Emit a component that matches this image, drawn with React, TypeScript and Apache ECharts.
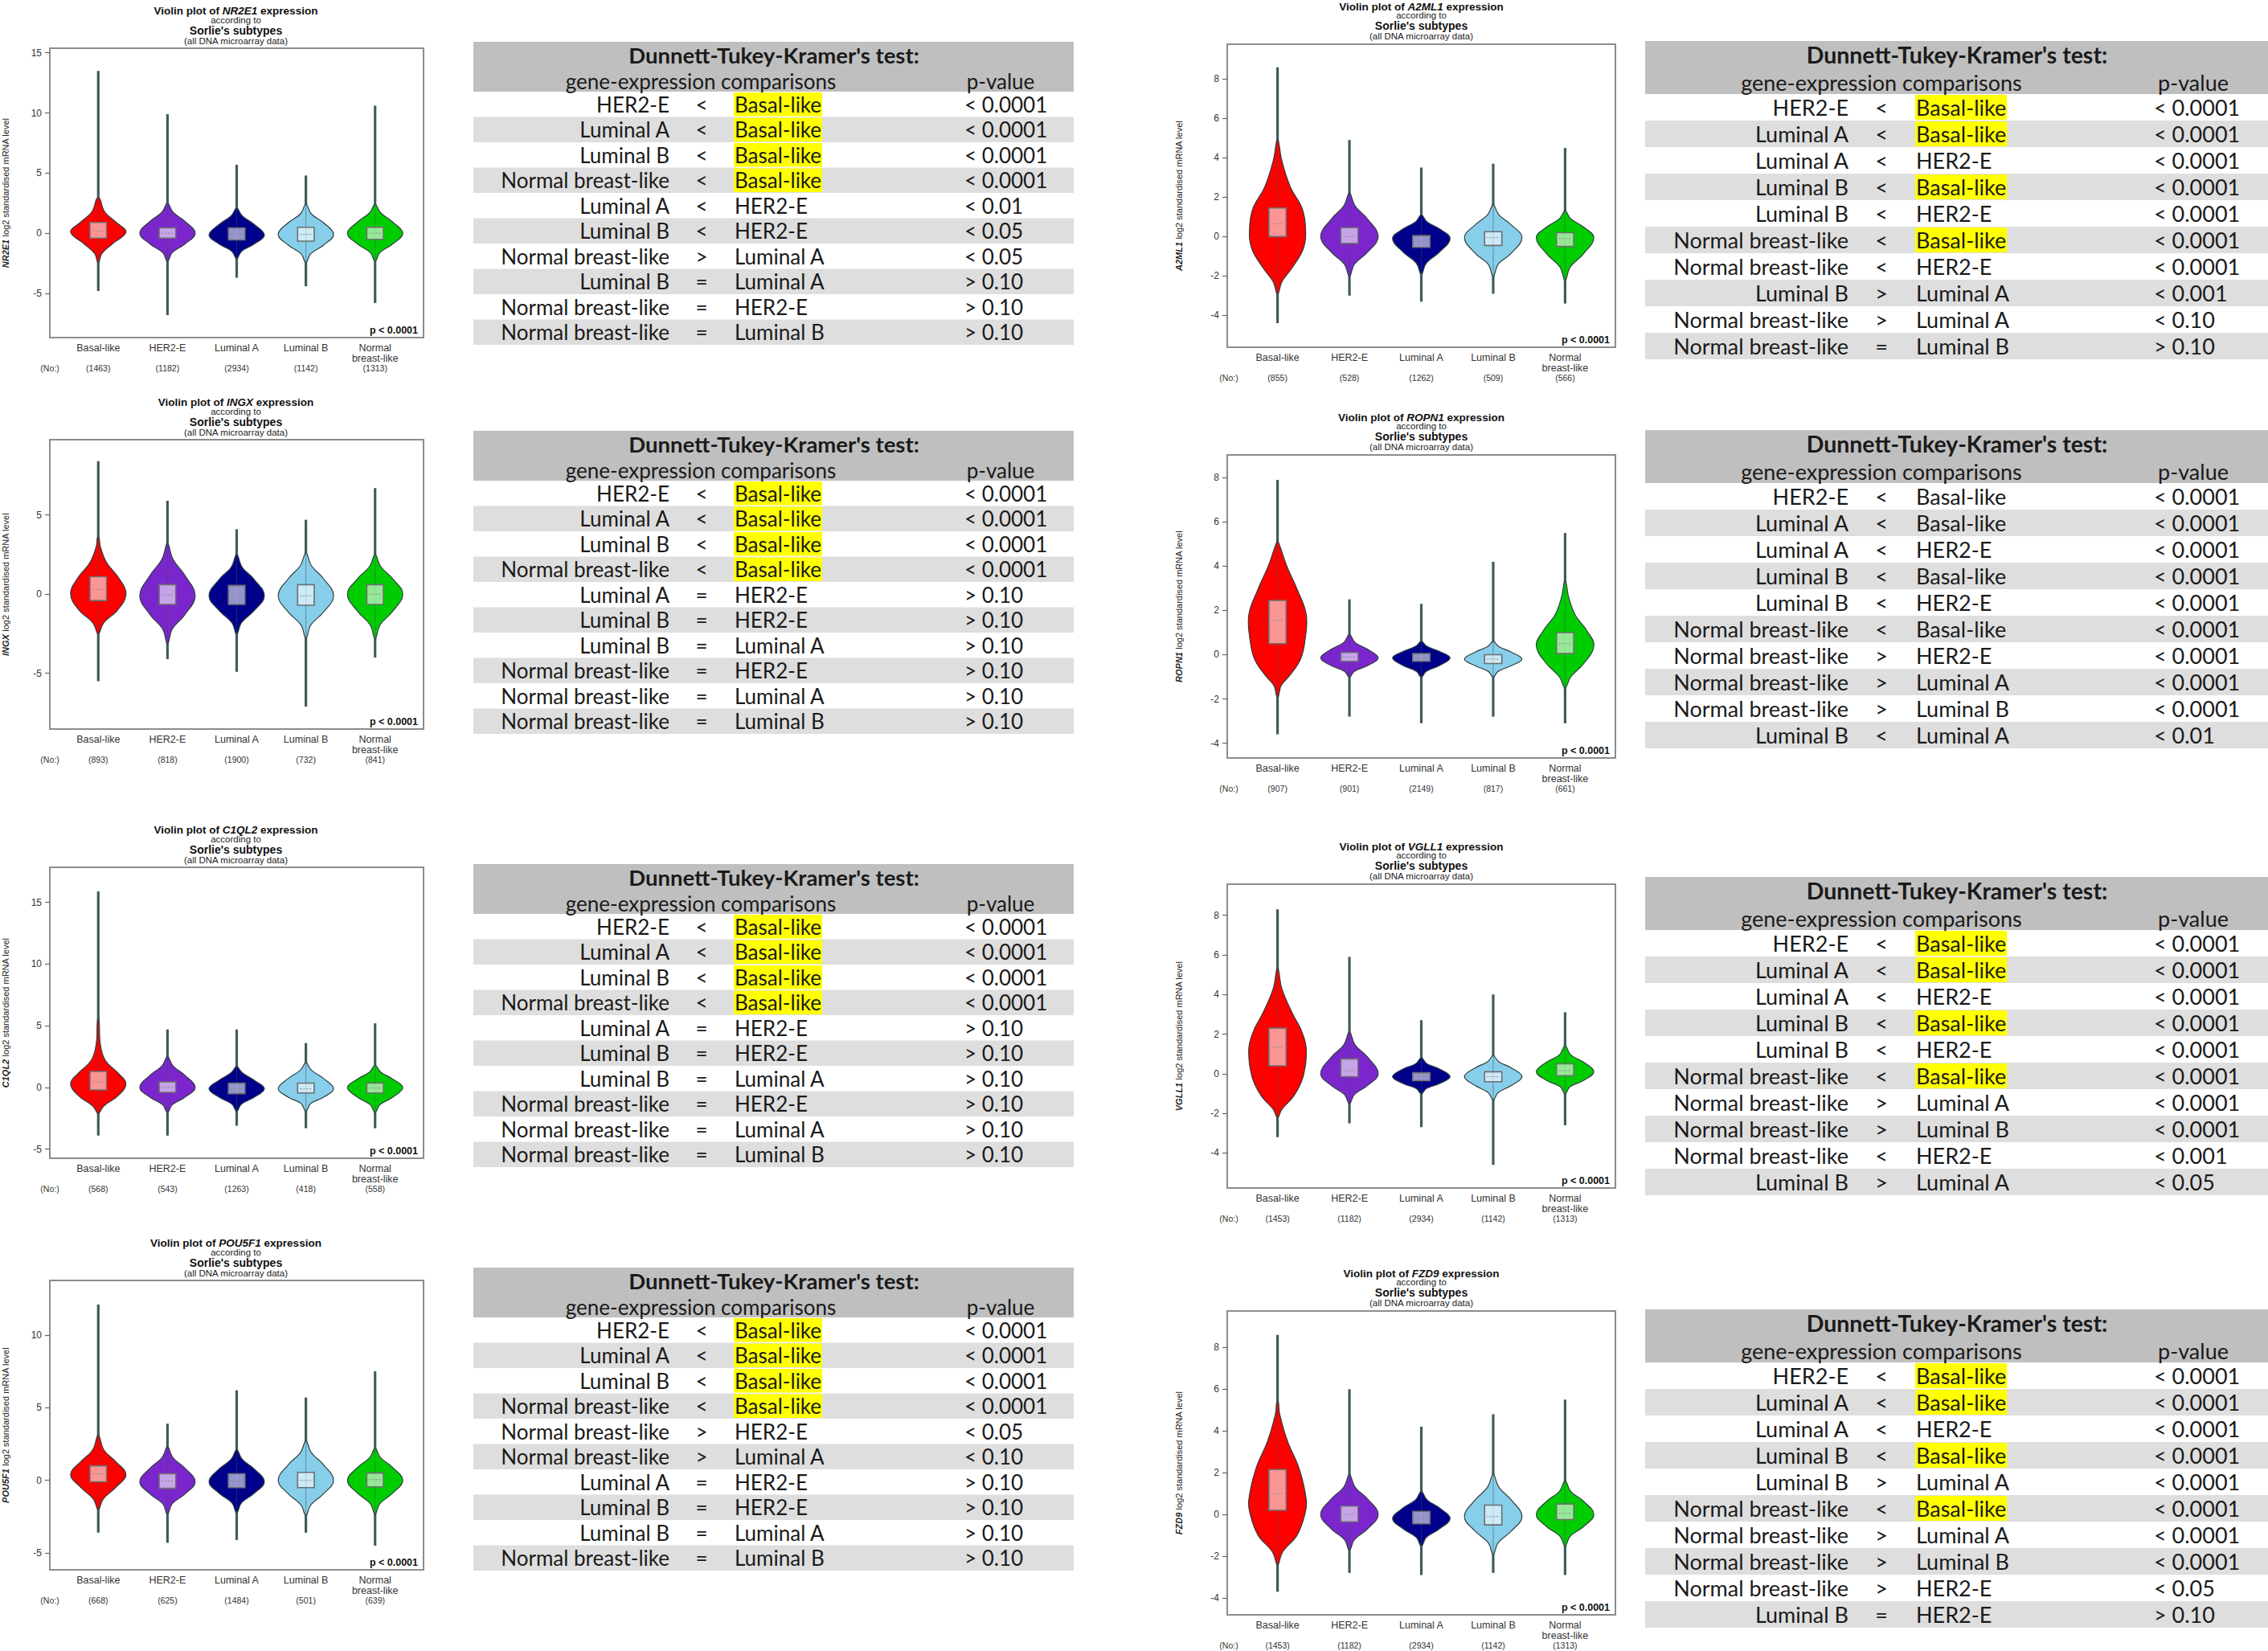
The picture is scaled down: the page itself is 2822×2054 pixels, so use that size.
import React, { useEffect, useRef } from "react";
import * as echarts from "echarts";

const SUBTYPE_LABELS = ["Basal-like", "HER2-E", "Luminal A", "Luminal B", "Normal\nbreast-like"];
const COLORS = ["#FF0000", "#7B26CC", "#00008B", "#87CEEB", "#00CD00"];
const COUNTS_A = [1463, 1182, 2934, 1142, 1313];
const COUNTS_B = [1453, 1182, 2934, 1142, 1313];

// ---------- NR2E1 ----------
const NR2E1_COUNTS = COUNTS_A;
const NR2E1_TICKS = [-5, 0, 5, 10, 15];
const NR2E1_RANGE = [-8.67, 15.38];
const NR2E1_MIN = [-4.8, -6.8, -3.7, -4.4, -5.8];
const NR2E1_MAX = [13.5, 9.9, 5.7, 4.8, 10.6];
const NR2E1_Q1 = [-0.4, -0.4, -0.55, -0.65, -0.5];
const NR2E1_MED = [0.2, 0.0, -0.05, -0.1, 0.0];
const NR2E1_Q3 = [0.9, 0.45, 0.45, 0.5, 0.5];
const NR2E1_SHAPES = [
  [[-2.4, 0.01], [-1.7, 0.05], [-0.9, 0.2], [0.1, 0.4], [0.9, 0.26], [1.8, 0.09], [2.9, 0.02]],
  [[-2.3, 0.01], [-1.6, 0.07], [-0.9, 0.25], [0, 0.4], [1.0, 0.25], [1.75, 0.08], [2.5, 0.01]],
  [[-2.1, 0.01], [-1.5, 0.07], [-0.9, 0.25], [-0.15, 0.4], [0.75, 0.25], [1.45, 0.08], [2.1, 0.01]],
  [[-2.4, 0.01], [-1.7, 0.07], [-1.0, 0.25], [-0.1, 0.4], [0.9, 0.25], [1.6, 0.08], [2.4, 0.01]],
  [[-2.3, 0.01], [-1.6, 0.07], [-0.9, 0.25], [0, 0.4], [0.95, 0.25], [1.7, 0.08], [2.4, 0.01]],
];
const NR2E1_TESTS = [
  ["HER2-E", "<", "Basal-like", "< 0.0001", 1],
  ["Luminal A", "<", "Basal-like", "< 0.0001", 1],
  ["Luminal B", "<", "Basal-like", "< 0.0001", 1],
  ["Normal breast-like", "<", "Basal-like", "< 0.0001", 1],
  ["Luminal A", "<", "HER2-E", "< 0.01", 0],
  ["Luminal B", "<", "HER2-E", "< 0.05", 0],
  ["Normal breast-like", ">", "Luminal A", "< 0.05", 0],
  ["Luminal B", "=", "Luminal A", "> 0.10", 0],
  ["Normal breast-like", "=", "HER2-E", "> 0.10", 0],
  ["Normal breast-like", "=", "Luminal B", "> 0.10", 0],
];

// ---------- INGX ----------
const INGX_COUNTS = [893, 818, 1900, 732, 841];
const INGX_TICKS = [-5, 0, 5];
const INGX_RANGE = [-8.52, 9.76];
const INGX_MIN = [-5.5, -4.1, -4.9, -7.1, -4.0];
const INGX_MAX = [8.4, 5.9, 4.1, 4.7, 6.7];
const INGX_Q1 = [-0.4, -0.65, -0.65, -0.7, -0.65];
const INGX_MED = [0.3, -0.05, -0.05, -0.1, 0.0];
const INGX_Q3 = [1.1, 0.6, 0.55, 0.6, 0.6];
const INGX_SHAPES = [
  [[-2.5, 0.01], [-1.8, 0.08], [-1.0, 0.28], [0.0, 0.4], [1.0, 0.3], [2.0, 0.12], [3.0, 0.03], [3.6, 0.01]],
  [[-3.1, 0.01], [-2.2, 0.07], [-1.3, 0.25], [-0.1, 0.4], [1.2, 0.25], [2.2, 0.08], [3.2, 0.01]],
  [[-2.5, 0.01], [-1.8, 0.07], [-1.05, 0.25], [-0.1, 0.4], [0.95, 0.25], [1.7, 0.08], [2.5, 0.01]],
  [[-2.75, 0.01], [-1.95, 0.07], [-1.15, 0.25], [-0.1, 0.4], [1.0, 0.25], [1.8, 0.08], [2.6, 0.01]],
  [[-2.8, 0.01], [-1.95, 0.07], [-1.1, 0.25], [0, 0.4], [1.0, 0.25], [1.75, 0.08], [2.5, 0.01]],
];
const INGX_TESTS = [
  ["HER2-E", "<", "Basal-like", "< 0.0001", 1],
  ["Luminal A", "<", "Basal-like", "< 0.0001", 1],
  ["Luminal B", "<", "Basal-like", "< 0.0001", 1],
  ["Normal breast-like", "<", "Basal-like", "< 0.0001", 1],
  ["Luminal A", "=", "HER2-E", "> 0.10", 0],
  ["Luminal B", "=", "HER2-E", "> 0.10", 0],
  ["Luminal B", "=", "Luminal A", "> 0.10", 0],
  ["Normal breast-like", "=", "HER2-E", "> 0.10", 0],
  ["Normal breast-like", "=", "Luminal A", "> 0.10", 0],
  ["Normal breast-like", "=", "Luminal B", "> 0.10", 0],
];

// ---------- C1QL2 ----------
const C1QL2_COUNTS = [568, 543, 1263, 418, 558];
const C1QL2_TICKS = [-5, 0, 5, 10, 15];
const C1QL2_RANGE = [-5.74, 17.85];
const C1QL2_MIN = [-3.9, -3.9, -3.1, -3.3, -3.3];
const C1QL2_MAX = [15.9, 4.7, 4.7, 3.6, 5.2];
const C1QL2_Q1 = [-0.2, -0.4, -0.5, -0.45, -0.45];
const C1QL2_MED = [0.45, 0.0, -0.1, -0.1, -0.05];
const C1QL2_Q3 = [1.3, 0.45, 0.35, 0.35, 0.35];
const C1QL2_SHAPES = [
  [[-2.1, 0.01], [-1.5, 0.08], [-0.7, 0.28], [0.3, 0.4], [1.2, 0.28], [2.2, 0.1], [3.5, 0.03], [5.5, 0.01]],
  [[-2.0, 0.01], [-1.4, 0.07], [-0.8, 0.25], [0, 0.4], [1.0, 0.25], [1.75, 0.08], [2.5, 0.01]],
  [[-1.9, 0.01], [-1.35, 0.07], [-0.8, 0.25], [-0.1, 0.4], [0.6, 0.25], [1.2, 0.08], [1.7, 0.01]],
  [[-1.9, 0.01], [-1.3, 0.07], [-0.8, 0.25], [-0.1, 0.4], [0.75, 0.25], [1.4, 0.08], [2.0, 0.01]],
  [[-2.0, 0.01], [-1.4, 0.07], [-0.8, 0.25], [0, 0.4], [0.7, 0.25], [1.25, 0.08], [1.8, 0.01]],
];
const C1QL2_TESTS = [
  ["HER2-E", "<", "Basal-like", "< 0.0001", 1],
  ["Luminal A", "<", "Basal-like", "< 0.0001", 1],
  ["Luminal B", "<", "Basal-like", "< 0.0001", 1],
  ["Normal breast-like", "<", "Basal-like", "< 0.0001", 1],
  ["Luminal A", "=", "HER2-E", "> 0.10", 0],
  ["Luminal B", "=", "HER2-E", "> 0.10", 0],
  ["Luminal B", "=", "Luminal A", "> 0.10", 0],
  ["Normal breast-like", "=", "HER2-E", "> 0.10", 0],
  ["Normal breast-like", "=", "Luminal A", "> 0.10", 0],
  ["Normal breast-like", "=", "Luminal B", "> 0.10", 0],
];

// ---------- POU5F1 ----------
const POU5F1_COUNTS = [668, 625, 1484, 501, 639];
const POU5F1_TICKS = [-5, 0, 5, 10];
const POU5F1_RANGE = [-6.16, 13.76];
const POU5F1_MIN = [-3.6, -4.3, -4.1, -3.6, -4.5];
const POU5F1_MAX = [12.1, 3.9, 6.2, 5.7, 7.5];
const POU5F1_Q1 = [-0.1, -0.55, -0.5, -0.5, -0.45];
const POU5F1_MED = [0.45, -0.05, -0.05, 0.0, 0.05];
const POU5F1_Q3 = [1.0, 0.45, 0.45, 0.55, 0.5];
const POU5F1_SHAPES = [
  [[-2.0, 0.01], [-1.3, 0.07], [-0.5, 0.25], [0.4, 0.4], [1.3, 0.25], [2.1, 0.08], [3.1, 0.01]],
  [[-2.3, 0.01], [-1.6, 0.07], [-0.95, 0.25], [-0.1, 0.4], [0.85, 0.25], [1.55, 0.08], [2.3, 0.01]],
  [[-2.2, 0.01], [-1.55, 0.07], [-0.9, 0.25], [-0.1, 0.4], [0.8, 0.25], [1.45, 0.08], [2.1, 0.01]],
  [[-2.4, 0.01], [-1.7, 0.07], [-0.95, 0.25], [0, 0.4], [1.1, 0.25], [1.9, 0.08], [2.7, 0.01]],
  [[-2.3, 0.01], [-1.6, 0.07], [-0.9, 0.25], [0, 0.4], [0.9, 0.25], [1.55, 0.08], [2.2, 0.01]],
];
const POU5F1_TESTS = [
  ["HER2-E", "<", "Basal-like", "< 0.0001", 1],
  ["Luminal A", "<", "Basal-like", "< 0.0001", 1],
  ["Luminal B", "<", "Basal-like", "< 0.0001", 1],
  ["Normal breast-like", "<", "Basal-like", "< 0.0001", 1],
  ["Normal breast-like", ">", "HER2-E", "< 0.05", 0],
  ["Normal breast-like", ">", "Luminal A", "< 0.10", 0],
  ["Luminal A", "=", "HER2-E", "> 0.10", 0],
  ["Luminal B", "=", "HER2-E", "> 0.10", 0],
  ["Luminal B", "=", "Luminal A", "> 0.10", 0],
  ["Normal breast-like", "=", "Luminal B", "> 0.10", 0],
];

// ---------- A2ML1 ----------
const A2ML1_COUNTS = [855, 528, 1262, 509, 566];
const A2ML1_TICKS = [-4, -2, 0, 2, 4, 6, 8];
const A2ML1_RANGE = [-5.62, 9.77];
const A2ML1_MIN = [-4.4, -3.0, -3.3, -2.9, -3.4];
const A2ML1_MAX = [8.6, 4.9, 3.5, 3.7, 4.5];
const A2ML1_Q1 = [0.0, -0.35, -0.55, -0.45, -0.5];
const A2ML1_MED = [0.65, 0.0, -0.25, -0.05, -0.1];
const A2ML1_Q3 = [1.45, 0.45, 0.05, 0.25, 0.2];
const A2ML1_SHAPES = [
  [[-2.9, 0.01], [-2.3, 0.06], [-1.6, 0.2], [-0.6, 0.36], [0.4, 0.39], [1.45, 0.34], [2.5, 0.18], [3.85, 0.06], [4.9, 0.01]],
  [[-2.0, 0.01], [-1.4, 0.07], [-0.8, 0.25], [0, 0.4], [0.9, 0.25], [1.55, 0.08], [2.2, 0.01]],
  [[-1.9, 0.01], [-1.35, 0.07], [-0.8, 0.25], [-0.1, 0.4], [0.4, 0.25], [0.75, 0.08], [1.1, 0.01]],
  [[-2.0, 0.01], [-1.4, 0.07], [-0.85, 0.25], [-0.05, 0.4], [0.6, 0.25], [1.1, 0.08], [1.6, 0.01]],
  [[-2.2, 0.01], [-1.55, 0.07], [-0.9, 0.25], [-0.05, 0.4], [0.5, 0.25], [0.9, 0.08], [1.3, 0.01]],
];
const A2ML1_TESTS = [
  ["HER2-E", "<", "Basal-like", "< 0.0001", 1],
  ["Luminal A", "<", "Basal-like", "< 0.0001", 1],
  ["Luminal A", "<", "HER2-E", "< 0.0001", 0],
  ["Luminal B", "<", "Basal-like", "< 0.0001", 1],
  ["Luminal B", "<", "HER2-E", "< 0.0001", 0],
  ["Normal breast-like", "<", "Basal-like", "< 0.0001", 1],
  ["Normal breast-like", "<", "HER2-E", "< 0.0001", 0],
  ["Luminal B", ">", "Luminal A", "< 0.001", 0],
  ["Normal breast-like", ">", "Luminal A", "< 0.10", 0],
  ["Normal breast-like", "=", "Luminal B", "> 0.10", 0],
];

// ---------- ROPN1 ----------
const ROPN1_COUNTS = [907, 901, 2149, 817, 661];
const ROPN1_TICKS = [-4, -2, 0, 2, 4, 6, 8];
const ROPN1_RANGE = [-4.67, 9.03];
const ROPN1_MIN = [-3.6, -2.8, -3.1, -2.8, -3.1];
const ROPN1_MAX = [7.9, 2.5, 2.3, 4.2, 5.5];
const ROPN1_Q1 = [0.5, -0.3, -0.3, -0.4, 0.05];
const ROPN1_MED = [1.55, -0.1, -0.15, -0.2, 0.5];
const ROPN1_Q3 = [2.45, 0.1, 0.05, 0.0, 1.0];
const ROPN1_SHAPES = [
  [[-1.9, 0.01], [-1.4, 0.05], [-0.9, 0.18], [-0.2, 0.32], [0.6, 0.38], [1.8, 0.4], [2.9, 0.28], [4.0, 0.13], [5.1, 0.01]],
  [[-1.0, 0.01], [-0.75, 0.07], [-0.5, 0.25], [-0.15, 0.4], [0.25, 0.25], [0.55, 0.08], [0.9, 0.01]],
  [[-1.0, 0.01], [-0.75, 0.07], [-0.5, 0.25], [-0.15, 0.4], [0.15, 0.25], [0.38, 0.08], [0.6, 0.01]],
  [[-1.0, 0.01], [-0.75, 0.07], [-0.5, 0.25], [-0.2, 0.4], [0.12, 0.25], [0.36, 0.08], [0.6, 0.01]],
  [[-1.5, 0.01], [-1.0, 0.08], [-0.4, 0.26], [0.4, 0.4], [1.1, 0.3], [1.8, 0.14], [2.6, 0.05], [3.3, 0.01]],
];
const ROPN1_TESTS = [
  ["HER2-E", "<", "Basal-like", "< 0.0001", 0],
  ["Luminal A", "<", "Basal-like", "< 0.0001", 0],
  ["Luminal A", "<", "HER2-E", "< 0.0001", 0],
  ["Luminal B", "<", "Basal-like", "< 0.0001", 0],
  ["Luminal B", "<", "HER2-E", "< 0.0001", 0],
  ["Normal breast-like", "<", "Basal-like", "< 0.0001", 0],
  ["Normal breast-like", ">", "HER2-E", "< 0.0001", 0],
  ["Normal breast-like", ">", "Luminal A", "< 0.0001", 0],
  ["Normal breast-like", ">", "Luminal B", "< 0.0001", 0],
  ["Luminal B", "<", "Luminal A", "< 0.01", 0],
];

// ---------- VGLL1 ----------
const VGLL1_COUNTS = COUNTS_B;
const VGLL1_TICKS = [-4, -2, 0, 2, 4, 6, 8];
const VGLL1_RANGE = [-5.77, 9.57];
const VGLL1_MIN = [-3.2, -2.5, -2.7, -4.6, -2.6];
const VGLL1_MAX = [8.3, 5.9, 2.7, 4.0, 3.1];
const VGLL1_Q1 = [0.4, -0.15, -0.35, -0.4, -0.1];
const VGLL1_MED = [1.35, 0.15, -0.15, -0.15, 0.15];
const VGLL1_Q3 = [2.3, 0.75, 0.05, 0.1, 0.5];
const VGLL1_SHAPES = [
  [[-2.2, 0.01], [-1.8, 0.06], [-1.1, 0.23], [-0.1, 0.36], [1.25, 0.4], [2.2, 0.33], [2.95, 0.22], [4.3, 0.06], [5.3, 0.01]],
  [[-1.5, 0.01], [-1.05, 0.07], [-0.6, 0.25], [0, 0.4], [0.85, 0.25], [1.45, 0.08], [2.1, 0.01]],
  [[-1.0, 0.01], [-0.75, 0.07], [-0.5, 0.25], [-0.15, 0.4], [0.25, 0.25], [0.5, 0.08], [0.8, 0.01]],
  [[-1.3, 0.01], [-0.95, 0.07], [-0.6, 0.25], [-0.15, 0.4], [0.3, 0.25], [0.6, 0.08], [0.9, 0.01]],
  [[-1.0, 0.01], [-0.65, 0.07], [-0.35, 0.25], [0.1, 0.4], [0.6, 0.25], [0.95, 0.08], [1.4, 0.01]],
];
const VGLL1_TESTS = [
  ["HER2-E", "<", "Basal-like", "< 0.0001", 1],
  ["Luminal A", "<", "Basal-like", "< 0.0001", 1],
  ["Luminal A", "<", "HER2-E", "< 0.0001", 0],
  ["Luminal B", "<", "Basal-like", "< 0.0001", 1],
  ["Luminal B", "<", "HER2-E", "< 0.0001", 0],
  ["Normal breast-like", "<", "Basal-like", "< 0.0001", 1],
  ["Normal breast-like", ">", "Luminal A", "< 0.0001", 0],
  ["Normal breast-like", ">", "Luminal B", "< 0.0001", 0],
  ["Normal breast-like", "<", "HER2-E", "< 0.001", 0],
  ["Luminal B", ">", "Luminal A", "< 0.05", 0],
];

// ---------- FZD9 ----------
const FZD9_COUNTS = COUNTS_B;
const FZD9_TICKS = [-4, -2, 0, 2, 4, 6, 8];
const FZD9_RANGE = [-4.81, 9.75];
const FZD9_MIN = [-3.7, -2.8, -2.9, -2.8, -2.9];
const FZD9_MAX = [8.6, 6.0, 4.2, 4.8, 5.5];
const FZD9_Q1 = [0.2, -0.35, -0.45, -0.5, -0.25];
const FZD9_MED = [1.0, 0.0, -0.2, -0.1, 0.05];
const FZD9_Q3 = [2.15, 0.4, 0.15, 0.45, 0.5];
const FZD9_SHAPES = [
  [[-2.4, 0.01], [-1.8, 0.07], [-1.0, 0.27], [0.0, 0.38], [0.7, 0.4], [2.2, 0.3], [3.5, 0.14], [4.8, 0.03], [5.4, 0.01]],
  [[-1.7, 0.01], [-1.2, 0.07], [-0.7, 0.25], [0, 0.4], [0.75, 0.25], [1.3, 0.08], [1.9, 0.01]],
  [[-1.5, 0.01], [-1.1, 0.07], [-0.7, 0.25], [-0.2, 0.4], [0.32, 0.25], [0.7, 0.08], [1.1, 0.01]],
  [[-1.9, 0.01], [-1.35, 0.07], [-0.8, 0.25], [-0.1, 0.4], [0.7, 0.25], [1.3, 0.08], [1.9, 0.01]],
  [[-1.5, 0.01], [-1.05, 0.07], [-0.6, 0.25], [0, 0.4], [0.65, 0.25], [1.1, 0.08], [1.6, 0.01]],
];
const FZD9_TESTS = [
  ["HER2-E", "<", "Basal-like", "< 0.0001", 1],
  ["Luminal A", "<", "Basal-like", "< 0.0001", 1],
  ["Luminal A", "<", "HER2-E", "< 0.0001", 0],
  ["Luminal B", "<", "Basal-like", "< 0.0001", 1],
  ["Luminal B", ">", "Luminal A", "< 0.0001", 0],
  ["Normal breast-like", "<", "Basal-like", "< 0.0001", 1],
  ["Normal breast-like", ">", "Luminal A", "< 0.0001", 0],
  ["Normal breast-like", ">", "Luminal B", "< 0.0001", 0],
  ["Normal breast-like", ">", "HER2-E", "< 0.05", 0],
  ["Luminal B", "=", "HER2-E", "> 0.10", 0],
];

const PLOTS: any[] = [
  { gene: "NR2E1", counts: NR2E1_COUNTS, ticks: NR2E1_TICKS, range: NR2E1_RANGE, min: NR2E1_MIN, max: NR2E1_MAX, q1: NR2E1_Q1, med: NR2E1_MED, q3: NR2E1_Q3, shapes: NR2E1_SHAPES, tests: NR2E1_TESTS },
  { gene: "INGX", counts: INGX_COUNTS, ticks: INGX_TICKS, range: INGX_RANGE, min: INGX_MIN, max: INGX_MAX, q1: INGX_Q1, med: INGX_MED, q3: INGX_Q3, shapes: INGX_SHAPES, tests: INGX_TESTS },
  { gene: "C1QL2", counts: C1QL2_COUNTS, ticks: C1QL2_TICKS, range: C1QL2_RANGE, min: C1QL2_MIN, max: C1QL2_MAX, q1: C1QL2_Q1, med: C1QL2_MED, q3: C1QL2_Q3, shapes: C1QL2_SHAPES, tests: C1QL2_TESTS },
  { gene: "POU5F1", counts: POU5F1_COUNTS, ticks: POU5F1_TICKS, range: POU5F1_RANGE, min: POU5F1_MIN, max: POU5F1_MAX, q1: POU5F1_Q1, med: POU5F1_MED, q3: POU5F1_Q3, shapes: POU5F1_SHAPES, tests: POU5F1_TESTS },
  { gene: "A2ML1", counts: A2ML1_COUNTS, ticks: A2ML1_TICKS, range: A2ML1_RANGE, min: A2ML1_MIN, max: A2ML1_MAX, q1: A2ML1_Q1, med: A2ML1_MED, q3: A2ML1_Q3, shapes: A2ML1_SHAPES, tests: A2ML1_TESTS },
  { gene: "ROPN1", counts: ROPN1_COUNTS, ticks: ROPN1_TICKS, range: ROPN1_RANGE, min: ROPN1_MIN, max: ROPN1_MAX, q1: ROPN1_Q1, med: ROPN1_MED, q3: ROPN1_Q3, shapes: ROPN1_SHAPES, tests: ROPN1_TESTS },
  { gene: "VGLL1", counts: VGLL1_COUNTS, ticks: VGLL1_TICKS, range: VGLL1_RANGE, min: VGLL1_MIN, max: VGLL1_MAX, q1: VGLL1_Q1, med: VGLL1_MED, q3: VGLL1_Q3, shapes: VGLL1_SHAPES, tests: VGLL1_TESTS },
  { gene: "FZD9", counts: FZD9_COUNTS, ticks: FZD9_TICKS, range: FZD9_RANGE, min: FZD9_MIN, max: FZD9_MAX, q1: FZD9_Q1, med: FZD9_MED, q3: FZD9_Q3, shapes: FZD9_SHAPES, tests: FZD9_TESTS },
];

// ---------- layout (pixels) ----------
const PLOT_BOX = [
  { left: 60, top: 60, width: 467, height: 360 },
  { left: 60, top: 547, width: 467, height: 360 },
  { left: 60, top: 1079, width: 467, height: 362 },
  { left: 60, top: 1593, width: 467, height: 360 },
  { left: 1527, top: 55, width: 483, height: 377 },
  { left: 1527, top: 566, width: 483, height: 377 },
  { left: 1527, top: 1100, width: 483, height: 378 },
  { left: 1527, top: 1631, width: 483, height: 378 },
];
const TABLE_L = { x0: 589, w: 747, hh: 62, rh: 31.5, c1: 833, sym: 873, c3: 914, pl: 1200, ph: 1245, gh: 872, th: 963, fs: 26, tfs: 27.5, ty: 16, gy: 49 };
const TABLE_R = { x0: 2047, w: 775, hh: 66, rh: 33, c1: 2300, sym: 2341, c3: 2384, pl: 2680, ph: 2729, gh: 2341, th: 2435, fs: 27, tfs: 28.5, ty: 17, gy: 51 };
const TABLE_TOPS = [52, 536, 1075, 1577, 51, 535, 1091, 1629];

const PF = "Liberation Sans, Arial, sans-serif";
const TF = "Lato, 'Open Sans', sans-serif";

function makeRender(p: any) {
  return (params: any, api: any) => {
    const i = params.dataIndex;
    const cx = i + 1;
    const prof = p.shapes[i];
    const right = prof.map((d: number[]) => api.coord([cx + d[1], d[0]]));
    const left = prof.slice().reverse().map((d: number[]) => api.coord([cx - d[1], d[0]]));
    const pts = right.concat(left);
    const lo = api.coord([cx, p.min[i]]);
    const hi = api.coord([cx, p.max[i]]);
    const b1 = api.coord([cx - 0.12, p.q3[i]]);
    const b2 = api.coord([cx + 0.12, p.q1[i]]);
    const m1 = api.coord([cx - 0.12, p.med[i]]);
    const m2 = api.coord([cx + 0.12, p.med[i]]);
    return {
      type: "group",
      children: [
        { type: "line", shape: { x1: lo[0], y1: lo[1], x2: hi[0], y2: hi[1] }, style: { stroke: "#2F4F4F", lineWidth: 3.2, opacity: 0.9 } },
        { type: "polygon", shape: { points: pts, smooth: 0.4 }, style: { fill: COLORS[i], stroke: "#2F3F3F", lineWidth: 1.2 } },
        { type: "line", shape: { x1: lo[0], y1: lo[1], x2: hi[0], y2: hi[1] }, style: { stroke: "#2F4F4F", lineWidth: 1, opacity: 0.5 } },
        { type: "rect", shape: { x: b1[0], y: b1[1], width: b2[0] - b1[0], height: b2[1] - b1[1] }, style: { fill: "rgba(255,255,255,0.58)", stroke: "#6E6E6E", lineWidth: 1.6 } },
        { type: "line", shape: { x1: m1[0] + 3, y1: m1[1], x2: m2[0] - 3, y2: m2[1] }, style: { stroke: "#8A8A8A", lineWidth: 1, lineDash: [2, 2] } },
      ],
    };
  };
}

function tableElements(tests: any[], L: any, top: number) {
  const els: any[] = [];
  els.push({ type: "rect", shape: { x: L.x0, y: top, width: L.w, height: L.hh }, style: { fill: "#BFBFBF" } });
  tests.forEach((r: any[], i: number) => {
    if (i % 2 === 1) {
      els.push({ type: "rect", shape: { x: L.x0, y: top + L.hh + L.rh * i, width: L.w, height: L.rh }, style: { fill: "#DEDEDE" } });
    }
  });
  const base = { fontFamily: TF, fontSize: L.fs, fill: "#1A1A1A", verticalAlign: "middle" };
  els.push({ type: "text", x: L.th, y: top + L.ty, style: { ...base, text: "Dunnett-Tukey-Kramer's test:", fontSize: L.tfs, fontWeight: "bold", align: "center" } });
  els.push({ type: "text", x: L.gh, y: top + L.gy, style: { ...base, text: "gene-expression comparisons", align: "center" } });
  els.push({ type: "text", x: L.ph, y: top + L.gy, style: { ...base, text: "p-value", align: "center" } });
  tests.forEach((r: any[], i: number) => {
    const y = top + L.hh + L.rh * (i + 0.5);
    els.push({ type: "text", x: L.c1, y, style: { ...base, text: r[0], align: "right" } });
    els.push({ type: "text", x: L.sym, y, style: { ...base, text: r[1], align: "center" } });
    const st: any = { ...base, text: r[2], align: "left" };
    if (r[4]) {
      st.backgroundColor = "#FFFF00";
      st.lineHeight = L.rh - 2;
      st.padding = [0, 1];
    }
    els.push({ type: "text", x: L.c3 - (r[4] ? 1 : 0), y, style: st });
    els.push({ type: "text", x: L.pl, y, style: { ...base, text: r[3], align: "left" } });
  });
  return els;
}

function plotTexts(p: any, box: any, right: boolean) {
  const cx = box.left + box.width / 2;
  const off = right ? [-47, -36, -23, -10] : [-47, -35, -22, -9];
  const t = box.top;
  const els: any[] = [];
  els.push({
    type: "text", x: cx, y: t + off[0],
    style: {
      text: `Violin plot of {g|${p.gene}} expression`, fontFamily: PF, fontSize: 13.5, fontWeight: "bold", fill: "#111",
      align: "center", verticalAlign: "middle",
      rich: { g: { fontFamily: PF, fontSize: 13.5, fontWeight: "bold", fontStyle: "italic", fill: "#111" } },
    },
  });
  els.push({ type: "text", x: cx, y: t + off[1], style: { text: "according to", fontFamily: PF, fontSize: 11.5, fill: "#222", align: "center", verticalAlign: "middle" } });
  els.push({ type: "text", x: cx, y: t + off[2], style: { text: "Sorlie's subtypes", fontFamily: PF, fontSize: 14, fontWeight: "bold", fill: "#111", align: "center", verticalAlign: "middle" } });
  els.push({ type: "text", x: cx, y: t + off[3], style: { text: "(all DNA microarray data)", fontFamily: PF, fontSize: 11.5, fill: "#222", align: "center", verticalAlign: "middle" } });
  els.push({ type: "text", x: box.left + box.width - 7, y: box.top + box.height - 9, style: { text: "p < 0.0001", fontFamily: PF, fontSize: 12.5, fontWeight: "bold", fill: "#111", align: "right", verticalAlign: "middle" } });
  els.push({ type: "text", x: box.left + 2, y: box.top + box.height + 38, style: { text: "(No:)", fontFamily: PF, fontSize: 10.5, fill: "#333", align: "center", verticalAlign: "middle" } });
  return els;
}

export default function App() {
  const ref = useRef<HTMLDivElement>(null);
  useEffect(() => {
    document.body.style.margin = "0";
    const chart = echarts.init(ref.current as HTMLDivElement, null, { renderer: "svg" });
    const grids = PLOT_BOX.map((b) => ({ ...b, show: true, borderColor: "#8C8C8C", borderWidth: 2, backgroundColor: "transparent" }));
    const xAxes = PLOTS.map((p, g) => ({
      gridIndex: g, type: "value", min: 0.3, max: 5.7,
      axisLine: { show: false }, splitLine: { show: false },
      axisTick: { show: true, customValues: [1, 2, 3, 4, 5], length: 6, lineStyle: { color: "#666", width: 1.2 } },
      axisLabel: {
        customValues: [1, 2, 3, 4, 5], margin: 7,
        formatter: (v: number) => {
          const i = Math.round(v) - 1;
          const lines = SUBTYPE_LABELS[i].split("\n");
          const n = `{c|(${p.counts[i]})}`;
          return lines.length === 2 ? `{a|${lines[0]}}\n{a|${lines[1]}}\n${n}` : `{a|${lines[0]}}\n{a| }\n${n}`;
        },
        rich: {
          a: { fontFamily: PF, fontSize: 12.5, lineHeight: 12.5, color: "#333" },
          c: { fontFamily: PF, fontSize: 10.5, lineHeight: 12.5, color: "#333" },
        },
      },
    }));
    const yAxes = PLOTS.map((p, g) => ({
      gridIndex: g, type: "value", min: p.range[0], max: p.range[1],
      axisLine: { show: false }, splitLine: { show: false },
      axisTick: { show: true, customValues: p.ticks, length: 6, lineStyle: { color: "#666", width: 1.2 } },
      axisLabel: { customValues: p.ticks, margin: 10, fontFamily: PF, fontSize: 12, color: "#333" },
      name: `{g|${p.gene}} log2 standardised mRNA level`,
      nameLocation: "middle", nameRotate: 90, nameGap: g < 4 ? 50 : 55,
      nameTextStyle: {
        fontFamily: PF, fontSize: 11, color: "#222",
        rich: { g: { fontFamily: PF, fontSize: 11, fontWeight: "bold", fontStyle: "italic", color: "#222" } },
      },
    }));
    const series = PLOTS.map((p, g) => ({
      type: "custom", xAxisIndex: g, yAxisIndex: g, silent: true, clip: false,
      data: p.med.map((m: number, i: number) => [i + 1, m]),
      renderItem: makeRender(p),
    }));
    let elements: any[] = [];
    PLOTS.forEach((p, g) => {
      const right = g >= 4;
      elements = elements.concat(plotTexts(p, PLOT_BOX[g], right));
      elements = elements.concat(tableElements(p.tests, right ? TABLE_R : TABLE_L, TABLE_TOPS[g]));
    });
    chart.setOption({
      animation: false,
      backgroundColor: "#FFFFFF",
      grid: grids,
      xAxis: xAxes,
      yAxis: yAxes,
      series,
      graphic: { elements },
    });
    return () => chart.dispose();
  }, []);
  return <div ref={ref} style={{ position: "absolute", left: 0, top: 0, width: 2822, height: 2054, background: "#fff" }} />;
}
